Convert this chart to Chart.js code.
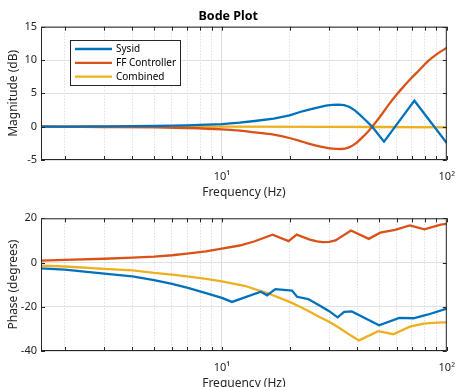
<!DOCTYPE html>
<html><head><meta charset="utf-8">
<script src="https://cdn.jsdelivr.net/npm/chart.js@4.4.1/dist/chart.umd.min.js"></script>
<style>
html,body{margin:0;padding:0;background:#fff;overflow:hidden;width:465px;height:387px;position:relative}
#c1{position:absolute;left:0;top:0}
#c2{position:absolute;left:0;top:200px}
</style></head><body>
<canvas id="c1" width="465" height="200"></canvas>
<canvas id="c2" width="465" height="191"></canvas>
<script>
// ---- data ----
const seriesNames = ['Sysid', 'FF Controller', 'Combined'];
const xTickValues = [2,3,4,5,6,7,8,9,10,20,30,40,50,60,70,80,90,100];
const magTicks = [-5, 0, 5, 10, 15];
const phaseTicks = [-40, -20, 0, 20];

const sysidMagFreq = [1.57,2,3,4,5,6,7,8,10,12,14,17,20,23,26,29,31,33,35,37,39,41,43,45,46.6,52.6,71.8,100];
const sysidMag     = [0,0.02,0.05,0.08,0.1,0.15,0.2,0.26,0.38,0.6,0.85,1.2,1.7,2.35,2.8,3.15,3.28,3.32,3.22,2.95,2.45,1.8,1.15,0.5,0,-2.25,3.9,-2.45];

const ffMagFreq = [1.57,2,3,5,7,10,12,14,17,20,23,26,29,31,34,36.5,39.4,42,44.5,46.6,50,55.2,60,65,69.6,75,82.3,90,100];
const ffMag     = [0,-0.02,-0.05,-0.1,-0.2,-0.4,-0.6,-0.85,-1.2,-1.7,-2.3,-2.8,-3.15,-3.3,-3.35,-3.15,-2.5,-1.65,-0.8,0,1.3,3.3,4.85,6.2,7.3,8.4,9.8,10.85,11.85];

const combMagFreq = [1.57,10,30,50,100];
const combMag     = [0.05,0,-0.02,-0.05,-0.1];

const sysidPhFreq = [1.57,2,3,4,5,6,7,8.5,10,11.1,14.9,15.9,17.3,20.5,21.6,24.2,27.3,30,32.7,35,37.8,50,61.5,71,82,100];
const sysidPh     = [-2.6,-3.2,-5.0,-6.3,-8.0,-9.7,-11.3,-13.8,-16.0,-17.8,-13.2,-14.8,-12.0,-12.7,-15.5,-16.5,-19.5,-22.0,-24.8,-22.3,-22.1,-28.4,-25.0,-25.2,-23.6,-20.8];

const ffPhFreq = [1.57,2,3,4,5,6,7,8.5,10,12,13.9,16.8,19.8,21.5,23,24.6,26.5,28.1,30,32,37.5,45,50.6,58.9,68.5,79.5,94,100];
const ffPh     = [0.9,1.2,1.7,2.2,2.7,3.3,4.0,5.0,6.3,7.7,9.5,12.6,9.7,12.6,11.5,10.4,9.6,9.2,9.3,10.0,14.5,10.7,13.5,14.8,16.8,15.0,17.1,17.5];

const combPhFreq = [1.57,2,3,4,5,6,7,8.5,10,12.6,15.9,20,22.5,24.6,27,30,32,34.4,37,40.7,49.6,57.8,68.5,79,90,100];
const combPh     = [-1.4,-1.8,-2.9,-3.5,-4.7,-5.5,-6.3,-7.4,-8.5,-10.5,-13.8,-17.8,-20.2,-22.3,-24.5,-26.8,-28.5,-30.5,-32.7,-35.2,-31,-32.4,-29,-27.6,-27.2,-27.1];

const colors = ['#0072BD', '#D95319', '#EDB120'];
// ---------------

const FONT = '"Noto Sans", "DejaVu Sans", sans-serif';
const pts = (fx, fy) => fx.map((f, i) => ({x: f, y: fy[i]}));
const isMajor = v => v === 10 || v === 100;

const boxPlugin = {
  id: 'box',
  afterDatasetsDraw(chart) {
    const {ctx, chartArea: a, scales} = chart;
    ctx.save();
    ctx.strokeStyle = '#262626';
    ctx.lineWidth = 1;
    ctx.strokeRect(a.left + 0.5, a.top + 0.5, a.right - a.left - 1, a.bottom - a.top - 1);
    ctx.beginPath();
    const tl = 4;
    xTickValues.forEach(v => {
      const x = Math.round(scales.x.getPixelForValue(v)) + 0.5;
      ctx.moveTo(x, a.bottom); ctx.lineTo(x, a.bottom - tl);
      ctx.moveTo(x, a.top); ctx.lineTo(x, a.top + tl);
    });
    scales.y.ticks.forEach(t => {
      const y = Math.round(scales.y.getPixelForValue(t.value)) + 0.5;
      ctx.moveTo(a.left, y); ctx.lineTo(a.left + tl, y);
      ctx.moveTo(a.right, y); ctx.lineTo(a.right - tl, y);
    });
    ctx.stroke();
    ctx.restore();
  }
};

const legendPlugin = {
  id: 'boxLegend',
  afterDraw(chart, args, opts) {
    if (!opts.show) return;
    const {ctx} = chart;
    ctx.save();
    const bx = 70.5, by = 40.5, bw = 110, bh = 45;
    ctx.fillStyle = '#fff';
    ctx.fillRect(bx, by, bw, bh);
    ctx.strokeStyle = '#262626';
    ctx.lineWidth = 1;
    ctx.strokeRect(bx, by, bw, bh);
    ctx.font = '10px ' + FONT;
    ctx.textBaseline = 'middle';
    chart.data.datasets.forEach((ds, i) => {
      const y = 49 + i * 13.8;
      ctx.strokeStyle = ds.borderColor;
      ctx.lineWidth = 2.3;
      ctx.beginPath(); ctx.moveTo(75, y); ctx.lineTo(112, y); ctx.stroke();
      ctx.fillStyle = '#000';
      ctx.fillText(ds.label, 116, y + 0.5);
    });
    ctx.restore();
  }
};

function makeChart(id, datasets, yMin, yMax, yStep, yTitle, withTitle, topPad) {
  return new Chart(document.getElementById(id), {
    type: 'line',
    data: {datasets},
    options: {
      responsive: false,
      animation: false,
      events: [],
      layout: {padding: {left: 0, right: 8.5, top: topPad, bottom: 0}, autoPadding: false},
      plugins: {
        legend: {display: false},
        tooltip: {enabled: false},
        title: {display: withTitle, text: 'Bode Plot', color: '#000',
                font: {family: FONT, size: 12.5, weight: 'bold'}, padding: {top: 9, bottom: 2.7}},
        boxLegend: {show: withTitle}
      },
      elements: {point: {radius: 0}, line: {borderWidth: 2.3}},
      scales: {
        x: {
          type: 'logarithmic', min: 1.57, max: 100, position: 'bottom',
          afterBuildTicks: s => { s.ticks = xTickValues.map(v => ({value: v, major: isMajor(v)})); },
          afterFit: s => { s.height = 40; },
          ticks: {autoSkip: false, maxRotation: 0, minRotation: 0, padding: 10,
                  color: '#262626', font: {family: FONT, size: 11},
                  callback: v => v === 10 ? '10¹' : (v === 100 ? '10²' : '')},
          grid: {drawTicks: false, color: c => (c.tick && isMajor(c.tick.value)) ? '#dcdcdc' : '#d2d2d2', lineWidth: 1},
          border: {display: false, dash: c => (c.tick && !isMajor(c.tick.value)) ? [1, 2] : []},
          title: {display: true, text: 'Frequency (Hz)', color: '#262626',
                  font: {family: FONT, size: 12}, padding: {top: 0, bottom: 0.5}}
        },
        y: {
          min: yMin, max: yMax,
          afterFit: s => { s.width = 41; },
          ticks: {stepSize: yStep, padding: 4, color: '#262626', font: {family: FONT, size: 11}},
          grid: {drawTicks: false, color: '#e0e0e0', lineWidth: 1},
          border: {display: false},
          title: {display: true, text: yTitle, color: '#262626',
                  font: {family: FONT, size: 12}, padding: {top: 6.5, bottom: 0}}
        }
      }
    },
    plugins: [boxPlugin, legendPlugin]
  });
}

const magSets = [
  {label: seriesNames[0], data: pts(sysidMagFreq, sysidMag), borderColor: colors[0], tension: 0},
  {label: seriesNames[1], data: pts(ffMagFreq, ffMag), borderColor: colors[1], cubicInterpolationMode: 'monotone'},
  {label: seriesNames[2], data: pts(combMagFreq, combMag), borderColor: colors[2], tension: 0}
];
const phSets = [
  {label: seriesNames[0], data: pts(sysidPhFreq, sysidPh), borderColor: colors[0], tension: 0},
  {label: seriesNames[1], data: pts(ffPhFreq, ffPh), borderColor: colors[1], tension: 0},
  {label: seriesNames[2], data: pts(combPhFreq, combPh), borderColor: colors[2], tension: 0}
];

makeChart('c1', magSets, magTicks[0], magTicks[magTicks.length - 1], 5, 'Magnitude (dB)', true, 0);
makeChart('c2', phSets, phaseTicks[0], phaseTicks[phaseTicks.length - 1], 20, 'Phase (degrees)', false, 18.3);
</script>
</body></html>
